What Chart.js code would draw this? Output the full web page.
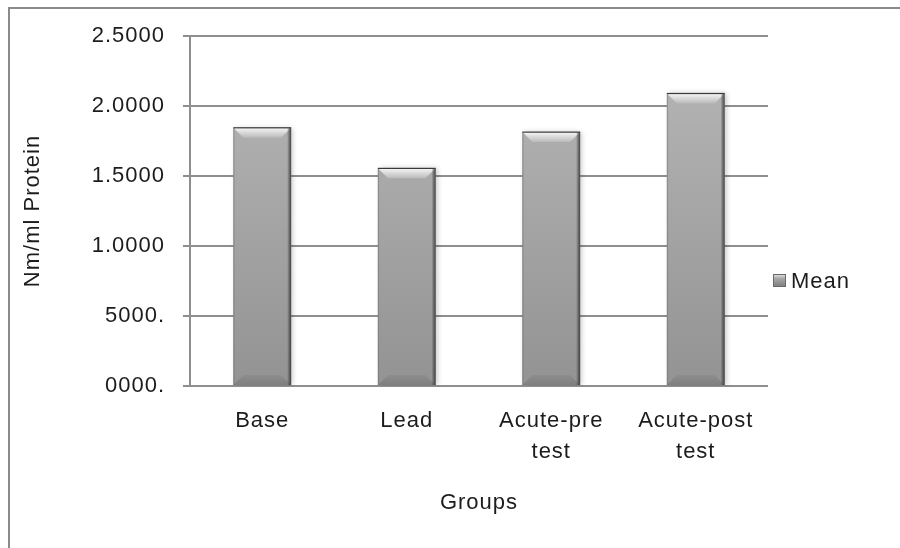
<!DOCTYPE html>
<html>
<head>
<meta charset="utf-8">
<script src="https://cdn.jsdelivr.net/npm/chart.js@4.4.1/dist/chart.umd.min.js"></script>
<style>
  html, body { margin: 0; padding: 0; background: #ffffff; }
  #wrap { width: 900px; height: 548px; position: relative; }
</style>
</head>
<body>
<div id="wrap"><canvas id="chart" width="900" height="548"></canvas></div>
<script>
// Groups on the category axis (multi-line labels as arrays)
const categories = ['Base', 'Lead', ['Acute-pre', 'test'], ['Acute-post', 'test']];
// Mean value per group
const meanValues = [1.845, 1.555, 1.814, 2.09];
// Value-axis tick labels, bottom to top
const yTickLabels = ['0000.', '5000.', '1.0000', '1.5000', '2.0000', '2.5000'];
const seriesName = 'Mean';
const xTitle = 'Groups';
const yTitle = 'Nm/ml Protein';

const FONT = '"Liberation Sans", Arial, sans-serif';
const TEXT = '#1c1c1c';
const GRID = '#8e8e8e';
const SPACING = '1px';

// Slightly open letter spacing for all chart text
const spacingPlugin = {
  id: 'letterSpacing',
  beforeUpdate(chart) { chart.ctx.letterSpacing = SPACING; },
  beforeLayout(chart) { chart.ctx.letterSpacing = SPACING; },
  beforeDraw(chart) { chart.ctx.letterSpacing = SPACING; }
};

// Outer frame of the chart object
const framePlugin = {
  id: 'frame',
  beforeDraw(chart) {
    const ctx = chart.ctx;
    ctx.save();
    ctx.strokeStyle = '#8a8a8a';
    ctx.lineWidth = 2;
    ctx.strokeRect(9, 8, 920, 600);
    ctx.restore();
  }
};

// Soft drop shadow behind the bars
const shadowPlugin = {
  id: 'barShadow',
  beforeDatasetsDraw(chart) {
    const ctx = chart.ctx;
    ctx.save();
    ctx.shadowColor = 'rgba(0,0,0,0.22)';
    ctx.shadowBlur = 5;
    ctx.shadowOffsetX = 2;
    ctx.shadowOffsetY = 0;
  },
  afterDatasetsDraw(chart) {
    chart.ctx.restore();
  }
};

// Bevelled look on each bar, placed from the bar elements themselves
const bevelPlugin = {
  id: 'bevel',
  afterDatasetsDraw(chart) {
    const ctx = chart.ctx;
    const meta = chart.getDatasetMeta(0);
    meta.data.forEach(bar => {
      const p = bar.getProps(['x', 'y', 'base', 'width'], true);
      const l = p.x - p.width / 2, r = p.x + p.width / 2;
      const t = p.y, b = p.base;
      const bv = 10;
      ctx.save();
      // top bevel
      let g = ctx.createLinearGradient(0, t, 0, t + bv);
      g.addColorStop(0, '#f6f6f6');
      g.addColorStop(1, '#bababa');
      ctx.fillStyle = g;
      ctx.beginPath();
      ctx.moveTo(l, t); ctx.lineTo(r, t);
      ctx.lineTo(r - bv, t + bv); ctx.lineTo(l + bv, t + bv);
      ctx.closePath(); ctx.fill();
      // bottom bevel
      g = ctx.createLinearGradient(0, b - bv, 0, b);
      g.addColorStop(0, '#8e8e8e');
      g.addColorStop(1, '#7f7f7f');
      ctx.fillStyle = g;
      ctx.beginPath();
      ctx.moveTo(l, b); ctx.lineTo(r, b);
      ctx.lineTo(r - bv, b - bv); ctx.lineTo(l + bv, b - bv);
      ctx.closePath(); ctx.fill();
      // side edges
      g = ctx.createLinearGradient(l, 0, r, 0);
      g.addColorStop(0, 'rgba(90,90,90,0.55)');
      g.addColorStop(0.03, 'rgba(90,90,90,0.0)');
      g.addColorStop(0.93, 'rgba(60,60,60,0.0)');
      g.addColorStop(0.96, 'rgba(60,60,60,0.45)');
      g.addColorStop(1, 'rgba(40,40,40,0.8)');
      ctx.fillStyle = g;
      ctx.fillRect(l, t, r - l, b - t);
      // top edge line
      ctx.fillStyle = '#3a3a3a';
      ctx.fillRect(l, t - 0.5, r - l, 1.2);
      ctx.restore();
    });
  }
};

// Legend entry at the right of the plot
const legendPlugin = {
  id: 'sideLegend',
  afterDraw(chart) {
    const ctx = chart.ctx;
    const area = chart.chartArea;
    const bx = area.right + 5, by = 274, s = 13;
    ctx.save();
    const g = ctx.createLinearGradient(0, by, 0, by + s);
    g.addColorStop(0, '#e8e8e8');
    g.addColorStop(0.35, '#a8a8a8');
    g.addColorStop(1, '#7c7c7c');
    ctx.fillStyle = g;
    ctx.fillRect(bx, by, s, s);
    ctx.strokeStyle = '#6a6a6a';
    ctx.lineWidth = 1;
    ctx.strokeRect(bx + 0.5, by + 0.5, s - 1, s - 1);
    ctx.fillStyle = TEXT;
    ctx.font = '22px ' + FONT;
    ctx.letterSpacing = SPACING;
    ctx.textBaseline = 'middle';
    ctx.textAlign = 'left';
    ctx.fillText(seriesName, bx + s + 5, by + s / 2 + 1);
    ctx.restore();
  }
};

function barFill(context) {
  const chart = context.chart;
  const area = chart.chartArea;
  if (!area) return '#a0a0a0';
  const g = chart.ctx.createLinearGradient(0, area.top, 0, area.bottom);
  g.addColorStop(0, '#b8b8b8');
  g.addColorStop(1, '#939393');
  return g;
}

new Chart(document.getElementById('chart'), {
  type: 'bar',
  data: {
    labels: categories,
    datasets: [{
      label: seriesName,
      data: meanValues,
      backgroundColor: barFill,
      borderWidth: 0,
      barPercentage: 0.4,
      categoryPercentage: 1.0
    }]
  },
  options: {
    responsive: false,
    animation: false,
    devicePixelRatio: 1,
    layout: { padding: { left: 0, right: 132, top: 36, bottom: 0 } },
    plugins: {
      legend: { display: false },
      tooltip: { enabled: false }
    },
    scales: {
      x: {
        grid: { display: false, drawTicks: false },
        border: { display: false },
        ticks: {
          color: TEXT,
          font: { family: FONT, size: 22, lineHeight: 1.4 },
          padding: 20,
          maxRotation: 0,
          autoSkip: false
        },
        title: {
          display: true,
          text: xTitle,
          color: TEXT,
          font: { family: FONT, size: 22, lineHeight: 1.2 },
          padding: { top: 0, bottom: 32 }
        },
        afterFit(scale) { scale.height = 162; }
      },
      y: {
        min: 0,
        max: 2.5,
        grid: {
          color: GRID,
          lineWidth: 2,
          drawTicks: true,
          tickLength: 7,
          tickColor: GRID
        },
        border: { display: true, color: GRID, width: 2 },
        ticks: {
          stepSize: 0.5,
          color: TEXT,
          font: { family: FONT, size: 22 },
          padding: 18,
          callback: (value, index) => yTickLabels[index]
        },
        title: {
          display: true,
          text: yTitle,
          color: TEXT,
          font: { family: FONT, size: 22, lineHeight: 1.2 },
          padding: { top: 20, bottom: 0 }
        },
        afterFit(scale) { scale.width = 190; }
      }
    }
  },
  plugins: [spacingPlugin, framePlugin, shadowPlugin, bevelPlugin, legendPlugin]
});
</script>
</body>
</html>
